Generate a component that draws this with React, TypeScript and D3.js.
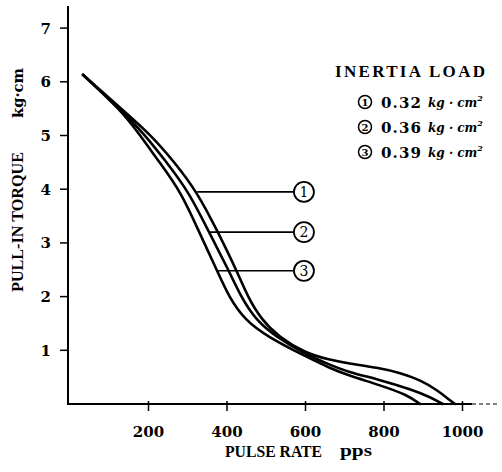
import React from "react";
import * as d3 from "d3";

const xTicks = [200, 400, 600, 800, 1000];
const yTicks = [1, 2, 3, 4, 5, 6, 7];
const loadValues = ["0.32", "0.36", "0.39"];
const curveNames = ["1", "2", "3"];

// [pulse rate (pps), pull-in torque (kg·cm)]
const curve1: [number, number][] = [
  [33, 6.13], [135, 5.47], [206, 5.01], [262, 4.54], [324, 3.95], [377, 3.2],
  [425, 2.48], [453, 1.99], [489, 1.56], [532, 1.25], [599, 0.95], [662, 0.82],
  [706, 0.76], [790, 0.67], [841, 0.58], [892, 0.45], [935, 0.26], [968, 0.07],
  [981, 0],
];
const curve2: [number, number][] = [
  [33, 6.13], [132, 5.47], [191, 5.01], [242, 4.54], [303, 3.95], [354, 3.2],
  [405, 2.48], [436, 1.99], [474, 1.56], [525, 1.25], [599, 0.93], [662, 0.73],
  [706, 0.6], [790, 0.45], [874, 0.26], [917, 0.13], [950, 0],
];
const curve3: [number, number][] = [
  [33, 6.13], [130, 5.47], [178, 5.01], [224, 4.54], [283, 3.95], [329, 3.2],
  [375, 2.48], [405, 1.99], [446, 1.56], [504, 1.25], [599, 0.89], [662, 0.67],
  [706, 0.54], [790, 0.35], [859, 0.17], [892, 0],
];
const curves = [curve1, curve2, curve3];

// leader lines: torque level, start pps (on the curve), circle centre pps
const leaderTorque = [3.95, 3.2, 2.48];
const leaderStartPps = [324, 354, 375];
const leaderCirclePps = 596;

const FONT = "'DejaVu Serif', 'Liberation Serif', serif";
const FONT2 = "'Liberation Serif', 'DejaVu Serif', serif";

export default function App() {
  const x = d3.scaleLinear().domain([0, 1000]).range([70, 462.5]);
  const y = d3.scaleLinear().domain([0, 7]).range([404, 28.1]);
  const line = d3
    .line<[number, number]>()
    .x((d) => x(d[0]))
    .y((d) => y(d[1]))
    .curve(d3.curveBasis);

  const axisX = 68;
  const axisY = y(0);
  const legendX = 365;
  const legendRowY = [102, 127, 152];

  return (
    <svg
      width={502}
      height={472}
      style={{ position: "absolute", left: 0, top: 0, background: "#fff" }}
    >
      <rect width={502} height={472} fill="#fff" />
      {/* axes */}
      <line x1={axisX} y1={6} x2={axisX} y2={axisY} stroke="#000" strokeWidth={2} />
      <line x1={axisX - 1} y1={axisY} x2={472} y2={axisY} stroke="#000" strokeWidth={2} />
      <line x1={472} y1={axisY} x2={500} y2={axisY} stroke="#000" strokeWidth={1.2} strokeDasharray="4 3" />
      {yTicks.map((t) => (
        <g key={"y" + t}>
          <line x1={axisX - 8} x2={axisX} y1={y(t)} y2={y(t)} stroke="#000" strokeWidth={1.5} />
          <text
            x={51}
            y={y(t) + 5.5}
            textAnchor="end"
            fontFamily={FONT}
            fontWeight="bold"
            fontSize={15}
          >
            {t}
          </text>
        </g>
      ))}
      {xTicks.map((t) => (
        <g key={"x" + t}>
          <line x1={x(t)} x2={x(t)} y1={axisY - 3} y2={axisY + 7} stroke="#000" strokeWidth={1.5} />
          <text
            x={x(t)}
            y={437}
            textAnchor="middle"
            fontFamily={FONT}
            fontWeight="bold"
            fontSize={15}
          >
            {t}
          </text>
        </g>
      ))}
      {/* axis titles */}
      <text x={225} y={457} fontFamily={FONT2} fontWeight="bold" fontSize={17} textLength={97} lengthAdjust="spacingAndGlyphs">
        PULSE RATE
      </text>
      <text x={340} y={456} fontFamily={FONT2} fontWeight="bold" fontSize={17} textLength={32} lengthAdjust="spacingAndGlyphs">
        pps
      </text>
      <text
        transform="translate(23,292) rotate(-90)"
        fontFamily={FONT2}
        fontWeight="bold"
        fontSize={17}
        textLength={140}
        lengthAdjust="spacingAndGlyphs"
      >
        PULL-IN TORQUE
      </text>
      <text
        transform="translate(23,118) rotate(-90)"
        fontFamily={FONT}
        fontSize={15}
        fontWeight="bold"
        textLength={50}
        lengthAdjust="spacingAndGlyphs"
      >
        kg·cm
      </text>
      {/* curves */}
      {curves.map((c, i) => (
        <path key={"c" + i} d={line(c) || ""} fill="none" stroke="#000" strokeWidth={2.6} strokeLinejoin="round" strokeLinecap="round" />
      ))}
      {/* leaders */}
      {leaderTorque.map((t, i) => {
        const cx = x(leaderCirclePps);
        const cy = y(t);
        return (
          <g key={"l" + i}>
            <line x1={x(leaderStartPps[i])} x2={cx - 10} y1={cy} y2={cy} stroke="#000" strokeWidth={1.6} />
            <circle cx={cx} cy={cy} r={10} fill="#fff" stroke="#000" strokeWidth={1.8} />
            <text x={cx} y={cy + 5} textAnchor="middle" fontFamily={FONT} fontSize={14}>
              {curveNames[i]}
            </text>
          </g>
        );
      })}
      {/* legend */}
      <text x={335} y={77} fontFamily={FONT2} fontWeight="bold" fontSize={17} textLength={150} lengthAdjust="spacing">
        INERTIA LOAD
      </text>
      {loadValues.map((v, i) => {
        const cy = legendRowY[i];
        return (
          <g key={"lg" + i}>
            <circle cx={legendX} cy={cy} r={6.5} fill="none" stroke="#000" strokeWidth={1.5} />
            <text x={legendX} y={cy + 4} textAnchor="middle" fontFamily={FONT} fontSize={10} fontWeight="bold">
              {curveNames[i]}
            </text>
            <text x={381} y={cy + 5.5} fontFamily={FONT} fontSize={15} fontWeight="bold" textLength={40} lengthAdjust="spacing">
              {v}
            </text>
            <text x={428} y={cy + 5} fontFamily={FONT} fontSize={12} fontStyle="italic" fontWeight="bold">
              kg · cm
              <tspan fontSize={8} dy={-6}>2</tspan>
            </text>
          </g>
        );
      })}
    </svg>
  );
}
